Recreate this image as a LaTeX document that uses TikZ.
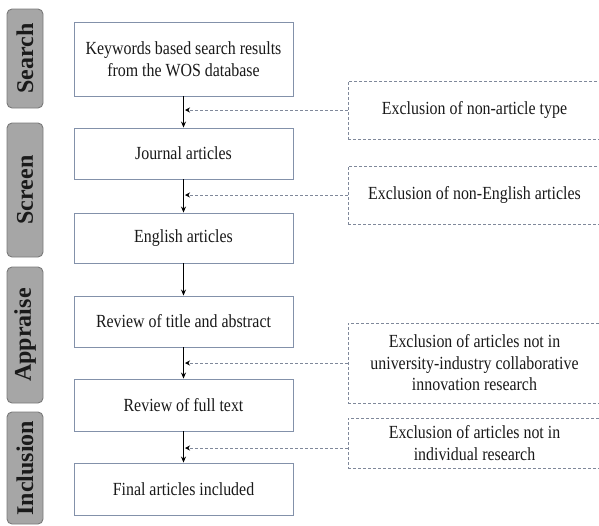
\documentclass[tikz,border=0pt]{standalone}
\usepackage{fontspec}
\setmainfont{Liberation Serif}[FakeStretch=0.86]
\newfontfamily\tabfont{Liberation Serif}
\usetikzlibrary{arrows.meta}
\definecolor{boxline}{HTML}{8391AA}
\definecolor{dashline}{HTML}{7F889A}
\definecolor{tabfill}{HTML}{A6A6A6}
\definecolor{tabline}{HTML}{7A7A7A}
\definecolor{tabtext}{HTML}{1A1A1A}
\tikzset{
  stepbox/.style={draw=boxline, line width=0.9pt, fill=white, minimum width=219pt,
    align=center, inner sep=0pt, text=black!90, font=\fontsize{18.5}{21.5}\selectfont},
  exclbox/.style={draw=dashline, dash pattern=on 3pt off 2pt, line width=0.9pt,
    minimum width=253pt, align=center, inner sep=0pt, text=black!90,
    font=\fontsize{18.5}{21.5}\selectfont},
  phasetab/.style={draw=tabline, line width=0.9pt, fill=tabfill, rounded corners=5pt,
    rotate=90, minimum height=36pt, inner sep=0pt, text=tabtext,
    font=\tabfont\bfseries\fontsize{24}{24}\selectfont},
  flow/.style={line width=1.6pt, -{Stealth[length=6pt,width=5pt]}},
  excl/.style={draw=dashline, line width=0.9pt, dash pattern=on 3pt off 2pt,
    -{Stealth[length=5pt,width=5pt,color=black]}}
}
\begin{document}
\begin{tikzpicture}[x=1pt,y=-1pt]
\useasboundingbox (0,0) rectangle (599,525);

% phase tabs on the left (rotated, so width runs along the text)
\node[phasetab, minimum width=99pt]  (tsearch)  at (25,58.5) {Search};
\node[phasetab, minimum width=134pt] (tscreen)  at (25,190)  {Screen};
\node[phasetab, minimum width=136pt] (tapprais) at (25,335)  {Appraise};
\node[phasetab, minimum width=112pt] (tinclude) at (25,468)  {Inclusion};

% main flow
\node[stepbox, minimum height=74pt] (s1) at (183.5,59)    {Keywords based search results\\from the WOS database};
\node[stepbox, minimum height=51pt] (s2) at (183.5,153.5)  {Journal articles};
\node[stepbox, minimum height=50pt] (s3) at (183.5,238)    {English articles};
\node[stepbox, minimum height=51pt] (s4) at (183.5,321.5)  {Review of title and abstract};
\node[stepbox, minimum height=52pt] (s5) at (183.5,405)    {Review of full text};
\node[stepbox, minimum height=52pt] (s6) at (183.5,489)    {Final articles included};

\draw[flow] (s1) -- (s2);
\draw[flow] (s2) -- (s3);
\draw[flow] (s3) -- (s4);
\draw[flow] (s4) -- (s5);
\draw[flow] (s5) -- (s6);

% exclusion boxes (open to the right edge)
\node[exclbox, minimum height=58pt] (e1) at (474.5,110) {Exclusion of non-article type};
\node[exclbox, minimum height=58pt] (e2) at (474.5,195) {Exclusion of non-English articles};
\node[exclbox, minimum height=80pt] (e3) at (474.5,363) {Exclusion of articles not in\\university-industry collaborative\\innovation research};
\node[exclbox, minimum height=50pt] (e4) at (474.5,443) {Exclusion of articles not in\\individual research};

\coordinate (j1) at (185,110);
\coordinate (j2) at (185,195);
\coordinate (j3) at (185,363);
\coordinate (j4) at (185,448);
\draw[excl] (e1.west) -- (j1);
\draw[excl] (e2.west) -- (j2);
\draw[excl] (e3.west) -- (j3);
\draw[excl] (e4.west |- j4) -- (j4);
\end{tikzpicture}
\end{document}
